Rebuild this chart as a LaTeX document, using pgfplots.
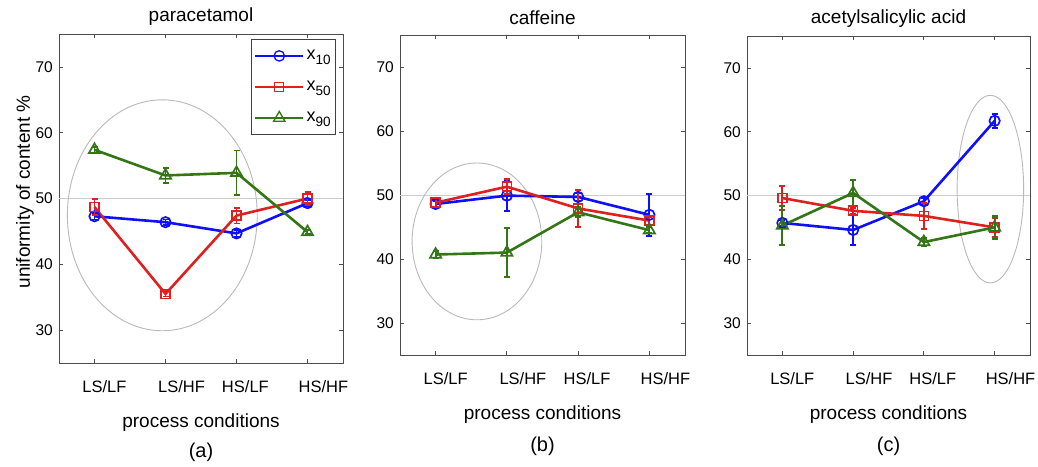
\documentclass[border=0pt]{standalone}
\usepackage{fontspec}
\setmainfont{Liberation Sans}
\usepackage{pgfplots}
\pgfplotsset{compat=1.18}
\definecolor{cblue}{RGB}{15,15,250}
\definecolor{cred}{RGB}{222,32,32}
\definecolor{cgreen}{RGB}{52,118,22}
\definecolor{egray}{RGB}{185,185,185}
\definecolor{rgray}{RGB}{205,205,205}
\pgfplotsset{
  panel/.style={
    scale only axis, anchor=south west,
    xmin=0.5, xmax=4.5, ymin=25, ymax=75,
    xtick={1,2,3,4}, xticklabels={},
    extra x ticks={1.14,2.225,3.125,4.225},
    extra x tick labels={LS/LF,LS/HF,HS/LF,HS/HF},
    extra x tick style={major tick length=0pt},
    ytick={30,40,50,60,70},
    xtick pos=both, ytick pos=both,
    tick align=inside, major tick length=4pt,
    axis line style={draw=black!70, line width=0.8pt},
    every tick/.style={black!70, line width=0.8pt},
    /pgf/number format/assume math mode=true,
    xticklabel style={font=\fontsize{16.5}{17}\selectfont, anchor=north, inner sep=0pt, yshift=-17pt},
    yticklabel style={font=\fontsize{15.5}{16}\selectfont, anchor=east, inner sep=0pt, xshift=-6pt},
    xlabel={process conditions},
    every axis x label/.style={at={(axis description cs:0.5,0)}, anchor=north, inner sep=0pt, yshift=-51pt, font=\fontsize{19}{19}\selectfont},
    every axis y label/.style={at={(axis description cs:-0.12,0.52)}, rotate=90, anchor=center, inner sep=0pt, font=\fontsize{19}{19}\selectfont},
    every axis title/.style={at={(axis description cs:0.5,1)}, anchor=center, inner sep=0pt, yshift=17pt, font=\fontsize{19}{19}\selectfont},
    clip=false,
  },
  eb/.style={error bars/y dir=both, error bars/y explicit,
    error bars/error bar style={line width=1.8pt},
    error bars/error mark options={rotate=90, mark size=3pt, line width=1.8pt}},
  sblue/.style={color=cblue, line width=2.6pt, mark=o, mark size=5.2pt, mark options={line width=1.7pt, solid}, eb},
  sred/.style={color=cred, line width=2.6pt, mark=square, mark size=4.5pt, mark options={line width=1.7pt, solid}, eb},
  sgreen/.style={color=cgreen, line width=2.6pt, mark=triangle, mark size=6.5pt, mark options={line width=1.7pt, solid}, eb},
  refl/.style={color=rgray, line width=0.9pt, forget plot},
}
\begin{document}
\begin{tikzpicture}[x=1pt,y=1pt]
\useasboundingbox (0,0) rectangle (1038,466);
% ---------- (a) paracetamol
\begin{axis}[panel, at={(59pt,103pt)}, width=284pt, height=329pt,
  title={paracetamol}, ylabel={uniformity of content \%},
  legend style={at={(1,1)}, anchor=north east, xshift=-7pt, yshift=-5pt,
    draw=black!75, line width=0.8pt, font=\fontsize{18}{18}\selectfont,
    row sep=16pt, inner xsep=3pt, inner ysep=9pt, cells={anchor=west}},
  legend cell align=left,
  legend image code/.code={\draw[mark repeat=2, mark phase=2, #1, line width=2.6pt, mark options={line width=1.3pt}] plot coordinates {(0pt,0pt) (24pt,0pt) (48pt,0pt)};}]
\addplot[refl] coordinates {(0.5,50) (4.5,50)};
\draw[egray, line width=0.9pt] (axis cs:1.955,47.45) ellipse [x radius=1.337, y radius=17.55];
\addplot[sblue] coordinates {(1,47.3) +- (0,0.5) (2,46.4) +- (0,0.4) (3,44.7) +- (0,0.5) (4,49.3) +- (0,0.5)};
\addlegendentry{x\raisebox{-0.45ex}{\fontsize{13.5}{13.5}\selectfont 10}}
\addplot[sred] coordinates {(1,48.7) +- (0,1.2) (2,35.5) +- (0,0.4) (3,47.4) +- (0,1.2) (4,50.0) +- (0,1.0)};
\addlegendentry{x\raisebox{-0.45ex}{\fontsize{13.5}{13.5}\selectfont 50}}
\addplot[sgreen] coordinates {(1,57.4) +- (0,0.4) (2,53.5) +- (0,1.1) (3,53.9) +- (0,3.4) (4,44.9) +- (0,0.3)};
\addlegendentry{x\raisebox{-0.45ex}{\fontsize{13.5}{13.5}\selectfont 90}}
\node[font=\fontsize{20}{20}\selectfont, inner sep=0pt] at (rel axis cs:0.5,0) [yshift=-89pt] {(a)};
\end{axis}
% ---------- (b) caffeine
\begin{axis}[panel, at={(400pt,111pt)}, width=285pt, height=320pt, title={caffeine}]
\addplot[refl] coordinates {(0.5,50) (4.5,50)};
\draw[egray, line width=0.9pt] (axis cs:1.58,42.75) ellipse [x radius=0.91, y radius=12.25];
\addplot[sblue] coordinates {(1,48.6) +- (0,0.5) (2,49.9) +- (0,2.4) (3,49.7) +- (0,0.6) (4,46.9) +- (0,3.3)};
\addplot[sred] coordinates {(1,48.8) +- (0,0.8) (2,51.3) +- (0,1.2) (3,47.9) +- (0,2.9) (4,46.0) +- (0,0.6)};
\addplot[sgreen] coordinates {(1,40.7) +- (0,0.6) (2,41.0) +- (0,3.8) (3,47.3) +- (0,0.8) (4,44.5) +- (0,0.5)};
\node[font=\fontsize{20}{20}\selectfont, inner sep=0pt] at (rel axis cs:0.5,0) [yshift=-91pt] {(b)};
\end{axis}
% ---------- (c) acetylsalicylic acid
\begin{axis}[panel, at={(747pt,111pt)}, width=283pt, height=319pt, title={acetylsalicylic acid}]
\addplot[refl] coordinates {(0.5,50) (4.5,50)};
\draw[egray, line width=0.9pt] (axis cs:3.94,51.0) ellipse [x radius=0.47, y radius=14.7];
\addplot[sblue] coordinates {(1,45.7) +- (0,0.5) (2,44.6) +- (0,2.3) (3,49.1) +- (0,0.5) (4,61.7) +- (0,1.1)};
\addplot[sred] coordinates {(1,49.6) +- (0,1.9) (2,47.6) +- (0,0.5) (3,46.8) +- (0,2.0) (4,45.0) +- (0,1.5)};
\addplot[sgreen] coordinates {(1,45.3) +- (0,3.0) (2,50.4) +- (0,2.0) (3,42.7) +- (0,0.6) (4,45.0) +- (0,1.8)};
\node[font=\fontsize{20}{20}\selectfont, inner sep=0pt] at (rel axis cs:0.5,0) [yshift=-91pt] {(c)};
\end{axis}
\end{tikzpicture}
\end{document}
